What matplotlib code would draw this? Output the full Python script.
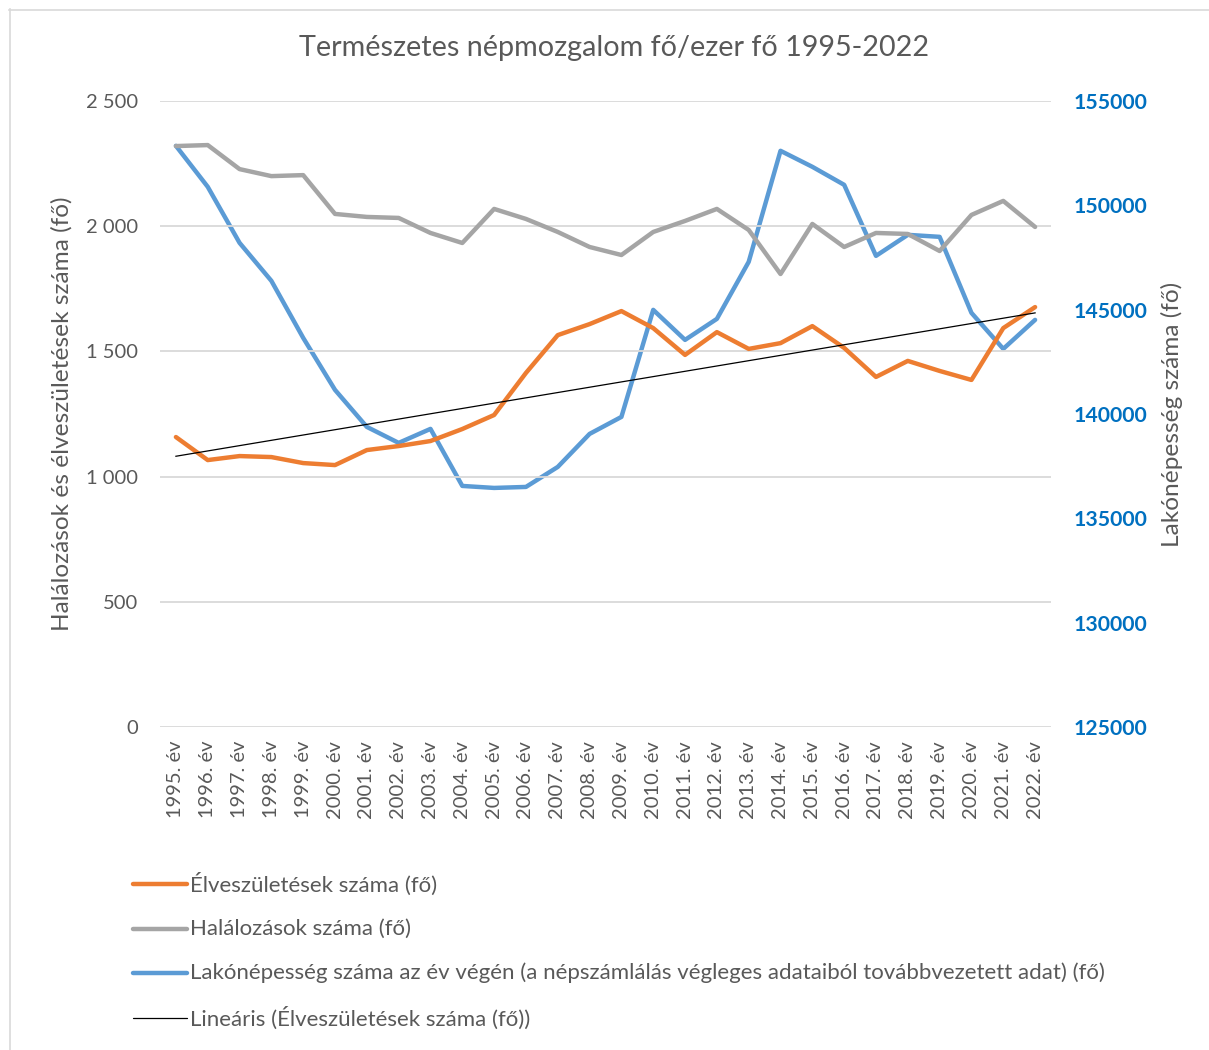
import matplotlib
matplotlib.use("Agg")
import matplotlib.pyplot as plt
from matplotlib.lines import Line2D
import numpy as np

plt.rcParams['font.family'] = ['Lato', 'DejaVu Sans']

years = [f"{y}. év" for y in range(1995, 2023)]
births = [1158, 1066, 1082, 1078, 1054, 1046, 1106, 1122, 1142, 1190, 1246, 1414, 1565, 1609,
          1661, 1593, 1486, 1577, 1510, 1533, 1601, 1514, 1398, 1462, 1422, 1386, 1593, 1677]
deaths = [2320, 2324, 2228, 2200, 2204, 2049, 2037, 2033, 1973, 1933, 2069, 2029, 1977, 1917,
          1885, 1977, 2021, 2069, 1985, 1809, 2009, 1917, 1973, 1969, 1901, 2045, 2101, 1997]
population = [152852, 150887, 148202, 146381, 143648, 141155, 139382, 138615, 139286, 136553,
              136457, 136505, 137464, 139046, 139861, 144990, 143552, 144559, 147291, 152613,
              151846, 150983, 147579, 148586, 148490, 144847, 143121, 144511]
left_ticks = [0, 500, 1000, 1500, 2000, 2500]
left_ticklabels = ["0", "500", "1 000", "1 500", "2 000", "2 500"]
right_ticks = [125000, 130000, 135000, 140000, 145000, 150000, 155000]

title = "Természetes népmozgalom fő/ezer fő 1995-2022"
ylabel_left = "Halálozások és élveszületések száma (fő)"
ylabel_right = "Lakónépesség száma (fő)"
labels = ["Élveszületések száma (fő)", "Halálozások száma (fő)",
          "Lakónépesség száma az év végén (a népszámlálás végleges adataiból továbbvezetett adat) (fő)",
          "Lineáris (Élveszületések száma (fő))"]

c_orange = "#ED7D31"
c_gray = "#A5A5A5"
c_blue = "#5B9BD5"
txt = "#595959"

W, H = 1209, 1050
fig = plt.figure(figsize=(W / 100, H / 100), dpi=100)
ax = fig.add_axes([160 / W, 1 - 727 / H, (1051 - 160) / W, (727 - 101) / H])
ax2 = ax.twinx()

x = np.arange(len(years))
ax.set_xlim(-0.5, len(years) - 0.5)
ax.set_ylim(0, 2500)
ax2.set_ylim(125000, 155000)

for a in (ax, ax2):
    for s in a.spines.values():
        s.set_visible(False)
ax.set_yticks(left_ticks)
ax.set_yticklabels(left_ticklabels, fontsize=14.5, color=txt)
ax.yaxis.grid(True, color="#D9D9D9", lw=1.3)
ax.set_axisbelow(True)
ax.tick_params(axis='y', length=0, pad=16)
ax.set_xticks(x)
ax.set_xticklabels(years, rotation=90, fontsize=14.5, color=txt)
ax.tick_params(axis='x', length=0, pad=10)

ax2.set_yticks(right_ticks)
ax2.set_yticklabels([str(t) for t in right_ticks], fontsize=15.3, color="#0070C0", fontweight="bold")
ax2.tick_params(axis='y', length=0, pad=16)

# trend line (linear fit of births)
coef = np.polyfit(x, births, 1)
trend = np.polyval(coef, x)

lw = 3.2
ax.plot(x, deaths, color=c_gray, lw=lw, solid_capstyle='round', zorder=3)
ax.plot(x, births, color=c_orange, lw=lw, solid_capstyle='round', zorder=4)
ax2.plot(x, population, color=c_blue, lw=lw, solid_capstyle='round', zorder=3)
ax.plot(x, trend, color="#000000", lw=0.9, zorder=5)
ax.set_zorder(ax2.get_zorder() + 1)
ax.patch.set_visible(False)

fig.text(614 / W, 1 - 48 / H, title, ha='center', va='center', fontsize=20.7, color=txt)
fig.text(62 / W, 1 - 414 / H, ylabel_left, rotation=90, ha='center', va='center', fontsize=17.6, color=txt)
fig.text(1172 / W, 1 - 414 / H, ylabel_right, rotation=90, ha='center', va='center', fontsize=17.6, color=txt)

# legend (drawn row by row)
styles = [(c_orange, lw), (c_gray, lw), (c_blue, lw), ("#000000", 0.9)]
rows_y = [884, 929, 973, 1018]
for (col, w), lab, yy in zip(styles, labels, rows_y):
    yf = 1 - yy / H
    fig.add_artist(Line2D([133 / W, 187 / W], [yf, yf], color=col, lw=w,
                          solid_capstyle='round', transform=fig.transFigure))
    fig.text(190 / W, yf, lab, ha='left', va='center', fontsize=16, color=txt)

# chart border
fig.add_artist(Line2D([9 / W, 1], [1 - 9.5 / H, 1 - 9.5 / H], color="#D9D9D9", lw=1.2, transform=fig.transFigure))
fig.add_artist(Line2D([9.5 / W, 9.5 / W], [0, 1 - 9 / H], color="#D9D9D9", lw=1.2, transform=fig.transFigure))

fig.savefig("out.png", dpi=100, facecolor="white")
